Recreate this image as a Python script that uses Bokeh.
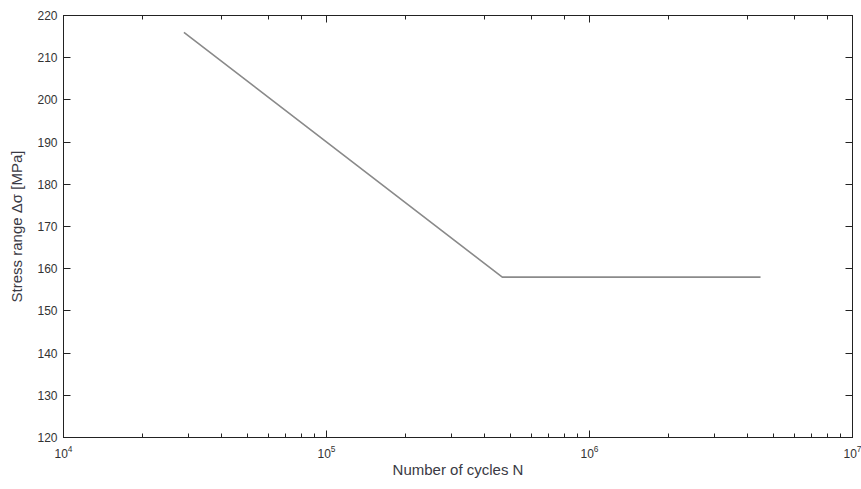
from bokeh.plotting import figure
from bokeh.models import LogAxis, LinearAxis, FixedTicker, Range1d
from bokeh.embed import file_html
from bokeh.resources import INLINE

# S-N curve data
cycles = [2.87e4, 4.66e5, 4.47e6]
stress = [216, 158, 158]
y_ticks = [120, 130, 140, 150, 160, 170, 180, 190, 200, 210, 220]

FONT = "Liberation Sans"
TXT = "#333333"
LBL = "#3a3a44"

p = figure(width=861, height=489, x_axis_type="log",
           x_range=Range1d(1e4, 1e7), y_range=Range1d(120, 220),
           output_backend="svg", toolbar_location=None,
           min_border_left=63, min_border_right=9, min_border_top=15,
           min_border_bottom=52)
p.grid.visible = False
p.outline_line_color = "#222222"
p.outline_line_width = 1
p.background_fill_color = "white"
p.border_fill_color = "white"

p.line(cycles, stress, line_color="#8a8a8a", line_width=1.6)


def style(ax, labels=True):
    ax.axis_line_color = "#222222"
    ax.major_tick_in = 7
    ax.major_tick_out = 0
    ax.minor_tick_in = 4
    ax.minor_tick_out = 0
    ax.major_tick_line_color = "#222222"
    ax.minor_tick_line_color = "#222222"
    ax.major_label_text_font = FONT
    ax.major_label_text_font_size = "12px"
    ax.major_label_text_color = TXT
    ax.axis_label_text_font = FONT
    ax.axis_label_text_font_size = "15px"
    ax.axis_label_text_font_style = "normal"
    ax.axis_label_text_color = LBL
    if not labels:
        ax.major_label_text_font_size = "1px"
        ax.major_label_text_color = None
        ax.major_label_standoff = 0


xa = p.xaxis[0]
style(xa)
xa.axis_label = "Number of cycles N"
xa.major_label_standoff = 7
xa.axis_label_standoff = 0

ya = p.yaxis[0]
style(ya)
ya.ticker = FixedTicker(ticks=y_ticks)
ya.minor_tick_line_color = None
ya.axis_label = "Stress range Δσ [MPa]"
ya.major_label_standoff = 6
ya.axis_label_standoff = 9

top = LogAxis()
style(top, labels=False)
p.add_layout(top, "above")

right = LinearAxis(ticker=FixedTicker(ticks=y_ticks))
style(right, labels=False)
right.minor_tick_line_color = None
p.add_layout(right, "right")

open("out.html", "w").write(file_html(p, INLINE))
